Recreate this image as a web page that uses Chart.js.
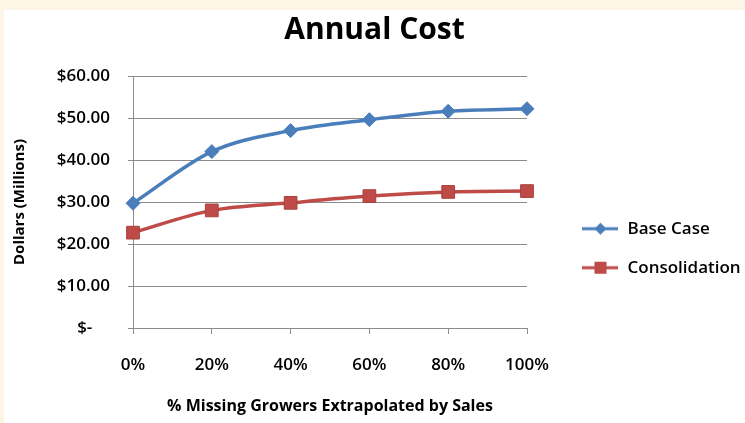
<!DOCTYPE html>
<html><head><meta charset="utf-8">
<script src="https://cdn.jsdelivr.net/npm/chart.js@4"></script>
<style>
html,body{margin:0;padding:0;background:#fdf5e6;width:745px;height:423px;overflow:hidden;}
#wrap{position:absolute;left:4px;top:10px;width:741px;height:413px;background:#ffffff;}
canvas{display:block;}
</style></head><body>
<div id="wrap"><canvas id="c" width="741" height="413"></canvas></div>
<script>
const categories = ['0%', '20%', '40%', '60%', '80%', '100%'];
const baseCase = [29.7, 42.0, 47.0, 49.6, 51.6, 52.2];
const consolidation = [22.7, 28.0, 29.8, 31.4, 32.4, 32.6];
const yTickValues = [0, 10, 20, 30, 40, 50, 60];
const seriesNames = ['Base Case', 'Consolidation'];
const chartTitle = 'Annual Cost';
const xTitle = '% Missing Growers Extrapolated by Sales';
const yTitle = 'Dollars (Millions)';

const BLUE = '#4a7ebb', RED = '#be4b48';
const FONT = "'Open Sans', sans-serif";
const GRID = '#8c8c8c';

function legendIcon(color, shape) {
  const W = 70, H = 16, off = 33;
  const cv = document.createElement('canvas');
  cv.width = W; cv.height = H;
  const g = cv.getContext('2d');
  g.strokeStyle = color; g.lineWidth = 3;
  g.beginPath(); g.moveTo(off, H / 2); g.lineTo(W - 1, H / 2); g.stroke();
  const cx = off + (W - off) / 2, cy = H / 2;
  g.fillStyle = color;
  g.beginPath();
  if (shape === 'diamond') {
    g.moveTo(cx - 6, cy); g.lineTo(cx, cy - 6); g.lineTo(cx + 6, cy); g.lineTo(cx, cy + 6); g.closePath();
  } else {
    g.rect(cx - 6, cy - 6, 12, 12);
  }
  g.fill();
  return cv;
}
const icons = [legendIcon(BLUE, 'diamond'), legendIcon(RED, 'square')];

new Chart(document.getElementById('c'), {
  type: 'line',
  data: {
    labels: categories,
    datasets: [
      { label: seriesNames[0], data: baseCase, borderColor: BLUE, backgroundColor: BLUE,
        borderWidth: 3.5, pointStyle: 'rectRot', pointRadius: 7, pointBorderWidth: 1,
        pointBackgroundColor: BLUE, pointBorderColor: BLUE, cubicInterpolationMode: 'monotone' },
      { label: seriesNames[1], data: consolidation, borderColor: RED, backgroundColor: RED,
        borderWidth: 3.5, pointStyle: 'rect', pointRadius: 9, pointBorderWidth: 1,
        pointBackgroundColor: RED, pointBorderColor: '#a8403d', cubicInterpolationMode: 'monotone' }
    ]
  },
  options: {
    responsive: false,
    animation: false,
    devicePixelRatio: 1,
    layout: { padding: { left: 0, right: 0, top: 0, bottom: 0 } },
    plugins: {
      title: { display: true, text: chartTitle, color: '#000',
        font: { family: FONT, size: 30, weight: 'bold' }, padding: { top: 2, bottom: 28 } },
      legend: {
        position: 'right', align: 'start', fullSize: false, maxWidth: 218,
        title: { display: true, text: ' ', font: { size: 1 }, padding: { top: 121, bottom: 0 } },
        labels: {
          usePointStyle: true, pointStyleWidth: 70, padding: 22, color: '#000',
          font: { family: FONT, size: 17, weight: '600' },
          generateLabels: (chart) => chart.data.datasets.map((d, i) => ({
            text: d.label, pointStyle: icons[i], fillStyle: d.borderColor, fontColor: '#000',
            strokeStyle: d.borderColor, lineWidth: 0, datasetIndex: i, hidden: false
          }))
        }
      },
      tooltip: { enabled: false }
    },
    scales: {
      x: {
        offset: false,
        grid: { display: true, drawOnChartArea: false, drawTicks: true, tickLength: 6, color: GRID },
        border: { display: true, color: GRID, width: 1 },
        ticks: { color: '#000', padding: 21, maxRotation: 0, font: { family: FONT, size: 17, weight: '600' } },
        title: { display: true, text: xTitle, color: '#000', padding: { top: 4, bottom: 7 },
          font: { family: FONT, size: 16, weight: 'bold' } },
        afterFit: (s) => { s.height = 95; }
      },
      y: {
        min: 0, max: 60,
        afterBuildTicks: (s) => { s.ticks = yTickValues.map(v => ({ value: v })); },
        grid: { color: GRID, lineWidth: 1, drawTicks: true, tickLength: 5 },
        border: { display: true, color: GRID, width: 1 },
        ticks: { color: '#000', padding: 18, font: { family: FONT, size: 17, weight: '600' },
          callback: (v) => v === 0 ? '$-    ' : '$' + Number(v).toFixed(2) },
        title: { display: true, text: yTitle, color: '#000', padding: { top: 7, bottom: 0 },
          font: { family: FONT, size: 15, weight: 'bold' } },
        afterFit: (s) => { s.width = 129; }
      }
    }
  }
});
</script>
</body></html>
